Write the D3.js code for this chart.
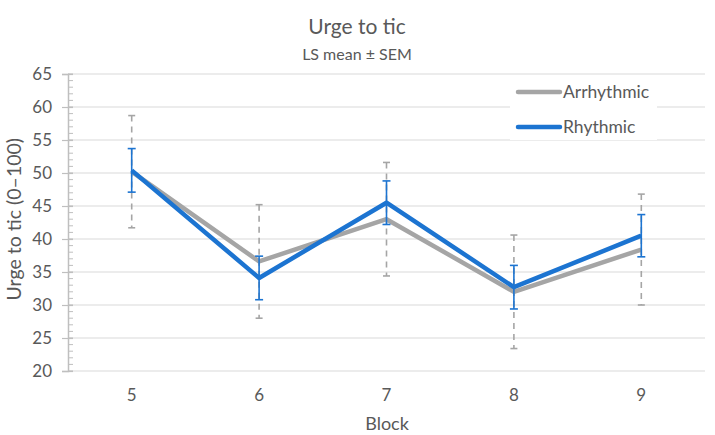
<!DOCTYPE html>
<html>
<head>
<meta charset="utf-8">
<script src="https://cdn.jsdelivr.net/npm/d3@7"></script>
<style>
  body { margin: 0; background: #fff; }
  text { font-family: Lato, "Open Sans", sans-serif; fill: #595959; }
</style>
</head>
<body>
<div id="chart"></div>
<script>
const WIDTH = 715;
const HEIGHT = 435;

// data
const blocks = ["5", "6", "7", "8", "9"];
const arrhythmicMean = [50.2, 36.6, 43.0, 32.0, 38.4];
const arrhythmicSem = [8.5, 8.6, 8.6, 8.6, 8.4];
const rhythmicMean = [50.4, 34.1, 45.5, 32.7, 40.5];
const rhythmicSem = [3.3, 3.3, 3.3, 3.3, 3.2];
const yTicks = [20, 25, 30, 35, 40, 45, 50, 55, 60, 65];

const margin = { left: 68, right: 10, top: 74, bottom: 64 };

var svg = d3.select("#chart")
    .append("svg")
    .attr("width", WIDTH)
    .attr("height", HEIGHT);

var x_scale = d3.scaleBand()
    .domain(blocks)
    .range([margin.left, WIDTH - margin.right]);

var y_scale = d3.scaleLinear()
    .domain([20, 65])
    .range([HEIGHT - margin.bottom, margin.top]);

function xVal(i) {
    return x_scale(blocks[i]) + x_scale.bandwidth() / 2;
}

// gridlines
svg.append("g")
    .selectAll("line")
    .data(yTicks)
    .enter()
    .append("line")
    .attr("x1", margin.left)
    .attr("x2", WIDTH - margin.right)
    .attr("y1", (d) => y_scale(d))
    .attr("y2", (d) => y_scale(d))
    .style("stroke", "#e6e6e6")
    .style("stroke-width", 1.5);

// minor ticks every 1 unit
svg.append("g")
    .selectAll("line")
    .data(d3.range(20, 66))
    .enter()
    .append("line")
    .attr("x1", margin.left)
    .attr("x2", margin.left + 5)
    .attr("y1", (d) => y_scale(d))
    .attr("y2", (d) => y_scale(d))
    .style("stroke", "#bfbfbf")
    .style("stroke-width", 1);

// y axis
var yAxis = d3.axisLeft(y_scale).tickValues(yTicks).tickSize(6).tickPadding(10);
var yG = svg.append("g")
    .attr("transform", "translate(" + margin.left + ",0)")
    .call(yAxis);
yG.select(".domain").style("stroke", "#bfbfbf").style("stroke-width", 1.5);
yG.selectAll(".tick line").attr("x2", 5).attr("x1", -6).style("stroke", "#bfbfbf").style("stroke-width", 1.2);
yG.selectAll(".tick text")
    .style("font-size", "17px")
    .style("font-family", "Lato, 'Open Sans', sans-serif")
    .style("fill", "#595959");

// x axis labels
var xAxis = d3.axisBottom(x_scale).tickSize(0).tickPadding(18);
var xG = svg.append("g")
    .attr("transform", "translate(0," + (HEIGHT - margin.bottom) + ")")
    .call(xAxis);
xG.select(".domain").remove();
xG.selectAll(".tick text")
    .style("font-size", "17px")
    .style("font-family", "Lato, 'Open Sans', sans-serif")
    .style("fill", "#595959");

// legend background (hides gridlines)
svg.append("rect")
    .attr("x", 510)
    .attr("y", 76)
    .attr("width", 147)
    .attr("height", 64)
    .style("fill", "#fff");

// error bars
function drawErrors(means, sems, color, capW, dash) {
    var g = svg.append("g");
    means.forEach(function(m, i) {
        var cx = xVal(i);
        var top = y_scale(m + sems[i]);
        var bot = y_scale(m - sems[i]);
        g.append("line")
            .attr("x1", cx).attr("x2", cx)
            .attr("y1", top).attr("y2", bot)
            .style("stroke", color)
            .style("stroke-width", 1.6)
            .style("stroke-dasharray", dash);
        [top, bot].forEach(function(yy) {
            g.append("line")
                .attr("x1", cx - capW).attr("x2", cx + capW)
                .attr("y1", yy).attr("y2", yy)
                .style("stroke", color)
                .style("stroke-width", 1.6);
        });
    });
}

drawErrors(arrhythmicMean, arrhythmicSem, "#a5a5a5", 3.5, "6,5");

var line = d3.line()
    .x((d, i) => xVal(i))
    .y((d) => y_scale(d));

svg.append("path")
    .datum(arrhythmicMean)
    .attr("d", line)
    .style("fill", "none")
    .style("stroke", "#a5a5a5")
    .style("stroke-width", 4.5)
    .style("stroke-linejoin", "round");

drawErrors(rhythmicMean, rhythmicSem, "#1c74d1", 4, null);

svg.append("path")
    .datum(rhythmicMean)
    .attr("d", line)
    .style("fill", "none")
    .style("stroke", "#1c74d1")
    .style("stroke-width", 4.5)
    .style("stroke-linejoin", "round");

// legend
var legend = [["Arrhythmic", "#a5a5a5", 92], ["Rhythmic", "#1c74d1", 127]];
legend.forEach(function(l) {
    svg.append("line")
        .attr("x1", 518).attr("x2", 560)
        .attr("y1", l[2]).attr("y2", l[2])
        .style("stroke", l[1])
        .style("stroke-width", 4.5)
        .style("stroke-linecap", "round");
    svg.append("text")
        .attr("x", 563)
        .attr("y", l[2] + 6)
        .style("font-size", "17.5px")
        .text(l[0]);
});

// titles
svg.append("text")
    .attr("x", 357)
    .attr("y", 34)
    .attr("text-anchor", "middle")
    .style("font-size", "21px")
    .text("Urge to tic");

svg.append("text")
    .attr("x", 357)
    .attr("y", 60)
    .attr("text-anchor", "middle")
    .style("font-size", "16px")
    .text("LS mean ± SEM");

svg.append("text")
    .attr("x", 387)
    .attr("y", 430)
    .attr("text-anchor", "middle")
    .style("font-size", "18px")
    .text("Block");

svg.append("text")
    .attr("text-anchor", "middle")
    .attr("transform", "translate(21," + y_scale(43) + ") rotate(-90)")
    .style("font-size", "19.5px")
    .text("Urge to tic (0–100)");
</script>
</body>
</html>
